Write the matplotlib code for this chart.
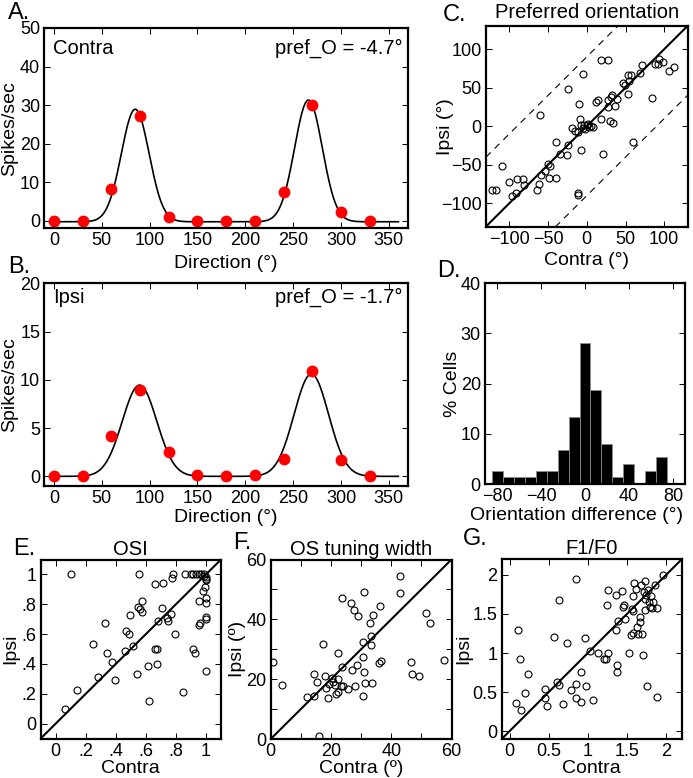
import numpy as np
import matplotlib
matplotlib.use("Agg")
import matplotlib.pyplot as plt

plt.rcParams['font.family'] = ['Liberation Sans', 'DejaVu Sans']
plt.rcParams['font.size'] = 13
plt.rcParams['axes.linewidth'] = 1.6

W, H = 693, 778

# ---------------- data ----------------
directions = [0, 30, 60, 90, 120, 150, 180, 210, 240, 270, 300, 330]
contra_rates = [0, 0, 8.2, 27.2, 0.9, 0, 0, 0, 7.3, 29.9, 2.2, 0]
ipsi_rates = [0, 0, 4.15, 8.9, 2.56, 0.14, 0, 0.14, 1.8, 10.9, 1.73, 0]
# fitted tuning-curve parameters (peak centre, amplitude), width, baseline
contra_fit_centers = [85, 266]
contra_fit_amps = [29.2, 31.6]
contra_fit_width = 14.5
contra_fit_base = -0.3
ipsi_fit_centers = [89.5, 269]
ipsi_fit_amps = [9.45, 10.6]
ipsi_fit_width = 18
ipsi_fit_base = 0.0

pref_contra = [-122, -117.5, -110, -100.5, -90, -82, -81, -96.5, -91, -60, -64, -62, -59.5,
               -54.5, -49, -40, -50, -47, -40, -34.5, -25.5, -24, -23.7, -19.5, -15.5, -11.3,
               -10.3, -8.3, -7, -5, -7, -5.3, -3.2, -0.2, 3.2, 8.3, -11.7, -11.5, 18.6, 27.5,
               12.2, 14.3, 19, 20.7, 27.1, 27.1, 31.4, 32.6, 29.7, 33.5, 36.9, 39.1, 46.7, 48.9,
               52.7, 52.7, 57.4, 53.9, 59.5, 69, 71.1, 84.3, 87.7, 91.6, 93.3, 98.4, 105.6, 112,
               -2, 1, 5]
pref_ipsi = [-83, -83, -51, -72.7, -67.8, -69, -75.7, -90.6, -86, 14, -83, -75.3, -63.5,
             -58, -67.4, -67.4, -49, -51, -21, -35.5, -36.8, -24, 48.6, -1.7, -6.6, -7.9,
             29, 8.8, -30.2, 68.3, 1.3, -2.2, 2.2, 1.7, -1.3, -1.3, -87, -89, 86, 86,
             31, 34, 9.2, -35.6, 25.5, 34.6, 38.5, 40.7, 6.6, 4.8, 26.3, 35.5, 55.6, 53.8,
             42, 66.5, 66.5, 58.7, -21, 69.6, 79.2, 37.2, 80.5, 80.5, 87, 82.7, 71.8, 76.2,
             -4, 3, 0]

diff_centers = [-80, -70, -60, -50, -40, -30, -20, -10, 0, 10, 20, 30, 40, 50, 60, 70]
diff_percent = [2.67, 1.33, 1.33, 1.33, 2.67, 2.67, 6.67, 13.33, 28.0, 18.67, 8.0, 1.33,
                4.0, 0.0, 2.67, 5.33]

osi_contra = [0.1, 0.06, 0.14, 0.25, 0.28, 0.33, 0.344, 0.375, 0.395, 0.466, 0.49, 0.46, 0.494,
              0.517, 0.541, 0.55, 0.557, 0.56, 0.574, 0.574, 0.614, 0.62, 0.659, 0.663, 0.672,
              0.674, 0.68, 0.707, 0.716, 0.74, 0.745, 0.765, 0.78, 0.776, 0.794, 0.85, 0.86,
              0.898, 0.916, 0.934, 0.951, 0.969, 0.987, 1.0, 1.0, 0.916, 0.925, 0.956, 0.96,
              0.951, 0.978, 0.996, 1.0, 1.0, 1.0, 1.0, 1.0, 1.0, 0.99]
osi_ipsi = [1.0, 0.1, 0.223, 0.533, 0.313, 0.676, 0.47, 0.41, 0.29, 0.62, 0.6, 0.488, 0.728,
            0.521, 0.335, 0.784, 1.0, 0.766, 0.824, 0.746, 0.389, 0.151, 0.936, 0.5, 0.5,
            0.402, 0.685, 0.777, 0.945, 0.705, 0.69, 0.737, 1.0, 0.979, 0.6, 0.212, 1.0,
            1.0, 1.0, 1.0, 1.0, 1.0, 1.0, 0.98, 0.97, 0.503, 0.474, 0.658, 0.676,
            0.822, 0.887, 0.918, 0.844, 0.81, 0.717, 0.698, 0.35, 0.96, 0.99]

width_contra = [0.9, 3.9, 12, 14.5, 14.5, 15.4, 16, 17.5, 18.1, 18.9, 18.5, 19.5, 20.2, 20.6,
                21.2, 21.8, 22.3, 22.3, 22.4, 23.2, 23.5, 23.6, 24.1, 25.5, 26.5, 27.1, 27.5,
                28, 28.5, 29.1, 30.5, 30.6, 30.6, 30.9, 31.1, 31.4, 32.9, 33.2, 33.2, 33.6,
                33.9, 35.9, 36.5, 36.4, 42.9, 43, 46.5, 46.9, 49.1, 51.6, 53, 57.6]
width_ipsi = [25.7, 18.2, 14, 14.5, 21.8, 19.2, 0.9, 31.9, 21.2, 13.6, 17, 18.4, 20.3, 19.2,
              17.9, 15, 15.6, 19.9, 28.8, 17.6, 47.2, 23.9, 17.7, 16.6, 45.5, 23.2, 43.1,
              17.7, 24.8, 41.1, 14.3, 32.3, 27.4, 22.3, 49.2, 18.7, 38.9, 34.4, 31.3, 18.7,
              41.4, 25.5, 26.1, 44.5, 48.7, 54.6, 25.7, 21.8, 20.9, 42, 38.9, 26.3]

f1f0_contra = [0.083, 0.151, 0.104, 0.138, 0.232, 0.194, 0.454, 0.454, 0.479, 0.564, 0.603,
               0.628, 0.633, 0.684, 0.739, 0.782, 0.85, 0.85, 0.854, 0.918, 0.918, 0.965,
               0.982, 1.024, 1.063, 1.131, 1.208, 1.229, 1.254, 1.246, 1.259, 1.357, 1.357,
               1.378, 1.378, 1.387, 1.438, 1.451, 1.468, 1.48, 1.523, 1.565, 1.553, 1.574,
               1.587, 1.583, 1.583, 1.617, 1.625, 1.638, 1.668, 1.672, 1.685, 1.697, 1.706,
               1.731, 1.731, 1.723, 1.736, 1.749, 1.761, 1.77, 1.783, 1.791, 1.812, 1.821,
               1.838, 1.859, 1.88, 1.885, 1.957]
f1f0_ipsi = [0.365, 0.271, 1.295, 0.924, 0.732, 0.493, 0.54, 0.429, 0.318, 1.206, 0.634,
             1.684, 0.591, 0.348, 1.133, 0.527, 0.604, 0.425, 1.953, 0.37, 0.754, 1.193,
             0.579, 1.031, 0.404, 1.005, 0.92, 0.92, 1.005, 1.611, 1.807, 1.743, 1.3,
             0.852, 0.758, 1.41, 1.799, 1.586, 1.611, 1.432, 1.001, 1.56, 1.236, 1.261,
             1.901, 1.731, 1.543, 1.816, 1.338, 1.244, 1.398, 1.458, 1.867, 1.24, 0.971,
             1.923, 1.547, 1.786, 1.688, 1.739, 0.579, 1.807, 1.658, 1.594, 1.726, 1.573,
             1.65, 1.867, 1.582, 0.433, 2.0]

# ---------------- helpers ----------------
fig = plt.figure(figsize=(W / 100, H / 100), dpi=100)


def ax_px(l, t, r, b):
    return fig.add_axes([l / W, 1 - b / H, (r - l) / W, (b - t) / H])


def style(ax):
    ax.tick_params(direction='in', top=True, right=True, length=4, width=0.7,
                   labelsize=13, pad=3)


def fit_curve(x, centers, amps, width, base):
    y = np.full_like(x, base, dtype=float)
    for c, a in zip(centers, amps):
        y += a * np.exp(-(x - c) ** 2 / (2 * width ** 2))
    return y


LBL = 14
TXT = 14.5
LET = 17

# ---------------- A ----------------
axA = ax_px(44.3, 28, 408, 228.3)
xs = np.linspace(0, 360, 721)
axA.plot(xs, fit_curve(xs, contra_fit_centers, contra_fit_amps, contra_fit_width, contra_fit_base),
         color='black', lw=1.2)
axA.plot(directions, contra_rates, 'o', color='red', ms=7.5, mec='red')
axA.set_xlim(-10, 370)
axA.set_ylim(-2, 50)
axA.set_xticks([0, 50, 100, 150, 200, 250, 300, 350])
axA.set_yticks([0, 10, 20, 30, 40, 50])
axA.set_xlabel('Direction (°)', fontsize=LBL, labelpad=4)
axA.set_ylabel('Spikes/sec', fontsize=LBL, labelpad=1)
axA.text(0.025, 0.9, 'Contra', transform=axA.transAxes, fontsize=TXT, va='center', ha='left')
axA.text(0.985, 0.9, 'pref_O = -4.7°', transform=axA.transAxes, fontsize=TXT, va='center', ha='right')
style(axA)

# ---------------- B ----------------
axB = ax_px(44.3, 283.3, 408, 486)
axB.plot(xs, fit_curve(xs, ipsi_fit_centers, ipsi_fit_amps, ipsi_fit_width, ipsi_fit_base),
         color='black', lw=1.2)
axB.plot(directions, ipsi_rates, 'o', color='red', ms=7.5, mec='red')
axB.set_xlim(-10, 370)
axB.set_ylim(-1, 20)
axB.set_xticks([0, 50, 100, 150, 200, 250, 300, 350])
axB.set_yticks([0, 5, 10, 15, 20])
axB.set_xlabel('Direction (°)', fontsize=LBL, labelpad=1)
axB.set_ylabel('Spikes/sec', fontsize=LBL, labelpad=1)
axB.text(0.025, 0.93, 'Ipsi', transform=axB.transAxes, fontsize=TXT, va='center', ha='left')
axB.text(0.985, 0.93, 'pref_O = -1.7°', transform=axB.transAxes, fontsize=TXT, va='center', ha='right')
style(axB)

# ---------------- C ----------------
axC = ax_px(486, 26, 687.5, 226.5)
lim = (-130, 130)
axC.plot(lim, lim, color='black', lw=1.5)
axC.plot([lim[0], lim[1]], [lim[0] + 90, lim[1] + 90], color='black', lw=0.8, ls=(0, (6, 5)))
axC.plot([lim[0], lim[1]], [lim[0] - 90, lim[1] - 90], color='black', lw=0.8, ls=(0, (6, 5)))
axC.plot(pref_contra, pref_ipsi, 'o', mfc='none', mec='black', ms=5, mew=0.8)
axC.set_xlim(lim)
axC.set_ylim(lim)
axC.set_xticks([-100, -50, 0, 50, 100])
axC.set_yticks([-100, -50, 0, 50, 100])
axC.set_xlabel('Contra (°)', fontsize=LBL, labelpad=3)
axC.set_ylabel('Ipsi (°)', fontsize=LBL)
axC.yaxis.set_label_coords(-0.16, 0.5)
axC.set_title('Preferred orientation', fontsize=TXT, pad=6)
style(axC)

# ---------------- D ----------------
axD = ax_px(485, 283, 685, 484)
axD.bar(diff_centers, diff_percent, width=10, color='black', edgecolor='#8a8a8a', linewidth=0.6)
axD.set_xlim(-91, 91)
axD.set_ylim(0, 40)
axD.set_xticks([-80, -40, 0, 40, 80])
axD.set_yticks([0, 10, 20, 30, 40])
axD.set_xlabel('Orientation difference (°)', fontsize=LBL, labelpad=1)
axD.xaxis.label.set_x(0.46)
axD.set_ylabel('% Cells', fontsize=LBL)
axD.yaxis.set_label_coords(-0.12, 0.5)
style(axD)

# ---------------- E ----------------
axE = ax_px(40.7, 559.5, 221, 738.5)
limE = (-0.1, 1.1)
axE.plot(limE, limE, color='black', lw=1.5)
axE.plot(osi_contra, osi_ipsi, 'o', mfc='none', mec='black', ms=5, mew=0.8)
axE.set_xlim(limE)
axE.set_ylim(limE)
ticksE = [0, 0.2, 0.4, 0.6, 0.8, 1.0]
labelsE = ['0', '.2', '.4', '.6', '.8', '1']
axE.set_xticks(ticksE, labelsE)
axE.set_yticks(ticksE, labelsE)
axE.set_xlabel('Contra', fontsize=LBL, labelpad=0)
axE.set_ylabel('Ipsi', fontsize=LBL, labelpad=2)
axE.set_title('OSI', fontsize=TXT, pad=3)
style(axE)

# ---------------- F ----------------
axF = ax_px(270.7, 559.5, 451.5, 739)
limF = (0, 60)
axF.plot(limF, limF, color='black', lw=1.5)
axF.plot(width_contra, width_ipsi, 'o', mfc='none', mec='black', ms=5, mew=0.8)
axF.set_xlim(limF)
axF.set_ylim(limF)
ticksF = [0, 10, 20, 30, 40, 50, 60]
labelsF = ['0', '', '20', '', '40', '', '60']
axF.set_xticks(ticksF, labelsF)
axF.set_yticks(ticksF, labelsF)
axF.set_xlabel('Contra (º)', fontsize=LBL, labelpad=0)
axF.set_ylabel('Ipsi (º)', fontsize=LBL, labelpad=0)
axF.set_title('OS tuning width', fontsize=TXT, pad=3)
style(axF)

# ---------------- G ----------------
axG = ax_px(501.7, 559.3, 681.7, 739)
limG = (-0.1, 2.2)
axG.plot(limG, limG, color='black', lw=1.5)
axG.plot(f1f0_contra, f1f0_ipsi, 'o', mfc='none', mec='black', ms=5, mew=0.8)
axG.set_xlim(limG)
axG.set_ylim(limG)
ticksG = [0, 0.5, 1, 1.5, 2]
labelsG = ['0', '0.5', '1', '1.5', '2']
axG.set_xticks(ticksG, labelsG)
axG.set_yticks(ticksG, labelsG)
axG.set_xlabel('Contra', fontsize=LBL, labelpad=0)
axG.set_ylabel('Ipsi', fontsize=LBL, labelpad=0)
axG.set_title('F1/F0', fontsize=TXT, pad=4)
style(axG)

# ---------------- panel letters ----------------
letters = [('A.', 8, 19), ('B.', 8, 273), ('C.', 443, 21), ('D.', 437, 277),
           ('E.', 13, 555), ('F.', 233, 549), ('G.', 463, 545)]
for s, x, y in letters:
    fig.text(x / W, 1 - y / H, s, fontsize=LET, ha='left', va='baseline')

fig.savefig('out.png', dpi=100)
